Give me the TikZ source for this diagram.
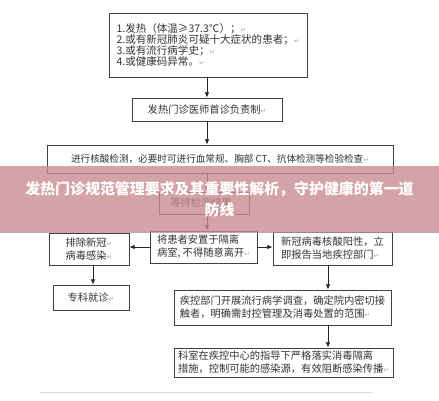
\documentclass[tikz,border=0pt]{standalone}
\usepackage{fontspec}
\usepackage{xcolor}
\usetikzlibrary{arrows.meta}
\setmainfont{Noto Sans CJK SC}
\newfontfamily\symfont{DejaVu Sans}
\newcommand{\ret}{{\symfont\color{black!35}\fontsize{5}{6}\selectfont ↵}}
\newcommand{\pxu}{0.75pt}
\definecolor{bannerpink}{RGB}{200,140,146}

\tikzset{
  box/.style={draw=black!75, line width=0.6pt, inner sep=2pt, text=black!80,
    font=\fontsize{7.7}{9.75}\selectfont},
  arr/.style={-{Latex[length=4pt,width=3.5pt]}, draw=black!85, line width=0.6pt},
  banner/.style={fill=bannerpink, fill opacity=0.8},
  bannertext/.style={text=white, font=\bfseries\fontsize{11.2}{13}\selectfont, inner sep=0pt},
}

\begin{document}
\begin{tikzpicture}[x=0.75pt,y=0.75pt,yscale=-1,xscale=1]
% page
\useasboundingbox (0,0) rectangle (439,400);
\fill[white] (0,0) rectangle (439,400);

% spines for the arrows
\coordinate (spine) at (207,0);
\coordinate (lspine) at (93,0);
\coordinate (rspine) at (328,0);

% boxes
\node[box, minimum width=198*\pxu, minimum height=64*\pxu, align=left,
  font=\fontsize{7.9}{8.3}\selectfont] (signs) at (208,45)
  {1.发热（体温≥37.3℃）；\ret\\2.或有新冠肺炎可疑十大症状的患者；\ret\\3.或有流行病学史；\ret\\4.或健康码异常。\ret};
\node[box, minimum width=150*\pxu, minimum height=23*\pxu] (first) at (207,109.5)
  {发热门诊医师首诊负责制\ret};
\node[box, minimum width=346*\pxu, minimum height=28*\pxu,
  font=\fontsize{7.2}{9}\selectfont] (test) at (220,159)
  {进行核酸检测，必要时可进行血常规、胸部 CT、抗体检测等检验检查\ret};
\node[box, minimum width=90*\pxu, minimum height=22*\pxu] (wait) at (204,203)
  {等待检测结果\ret};
\node[box, minimum width=80*\pxu, minimum height=32*\pxu, align=center] (excl) at (89,249)
  {排除新冠\ret\\病毒感染\ret};
\node[box, minimum width=107*\pxu, minimum height=32*\pxu, align=left] (iso) at (203.5,247)
  {将患者安置于隔离\\病室, 不得随意离开\ret};
\node[box, minimum width=119*\pxu, minimum height=33*\pxu, align=left] (pos) at (332.5,248.5)
  {新冠病毒核酸阳性，立\\即报告当地疾控部门\ret};
\node[box, minimum width=76*\pxu, minimum height=25*\pxu] (spec) at (91,297.5)
  {专科就诊\ret};
\node[box, minimum width=217*\pxu, minimum height=35*\pxu, align=left] (cdc) at (282.5,307.5)
  {疾控部门开展流行病学调查，确定院内密切接\\触者，明确需封控管理及消毒处置的范围\ret};
\node[box, minimum width=219*\pxu, minimum height=29*\pxu, align=left, inner sep=1pt] (dept) at (283.5,362.5)
  {科室在疾控中心的指导下严格落实消毒隔离\\措施，控制可能的感染源，有效阻断感染传播\ret};

% connectors
\draw[arr] (signs.south -| spine) -- (first.north -| spine);
\draw[arr] (first.south -| spine) -- (test.north -| spine);
\draw[arr] (test.south -| spine) -- (wait.north -| spine);
\draw[arr] (wait.south -| spine) -- (iso.north -| spine);
\draw[arr] (iso.west) -- (iso.west -| excl.east);
\draw[arr] (iso.east) -- (iso.east -| pos.west);
\draw[arr] (excl.south -| lspine) -- (spec.north -| lspine);
\draw[arr] (pos.south -| rspine) -- (cdc.north -| rspine);
\draw[arr] (cdc.south -| rspine) -- (dept.north -| rspine);

% page rule
\draw[black!15, line width=0.5pt] (40,392) -- (372,392);

% title banner
\fill[banner] (0,166) rectangle (439,233);
\node[bannertext] (title) at (219.5,189) {发热门诊规范管理要求及其重要性解析，守护健康的第一道};
\node[bannertext] (title2) at (219.5,210) {防线};
\end{tikzpicture}
\end{document}
